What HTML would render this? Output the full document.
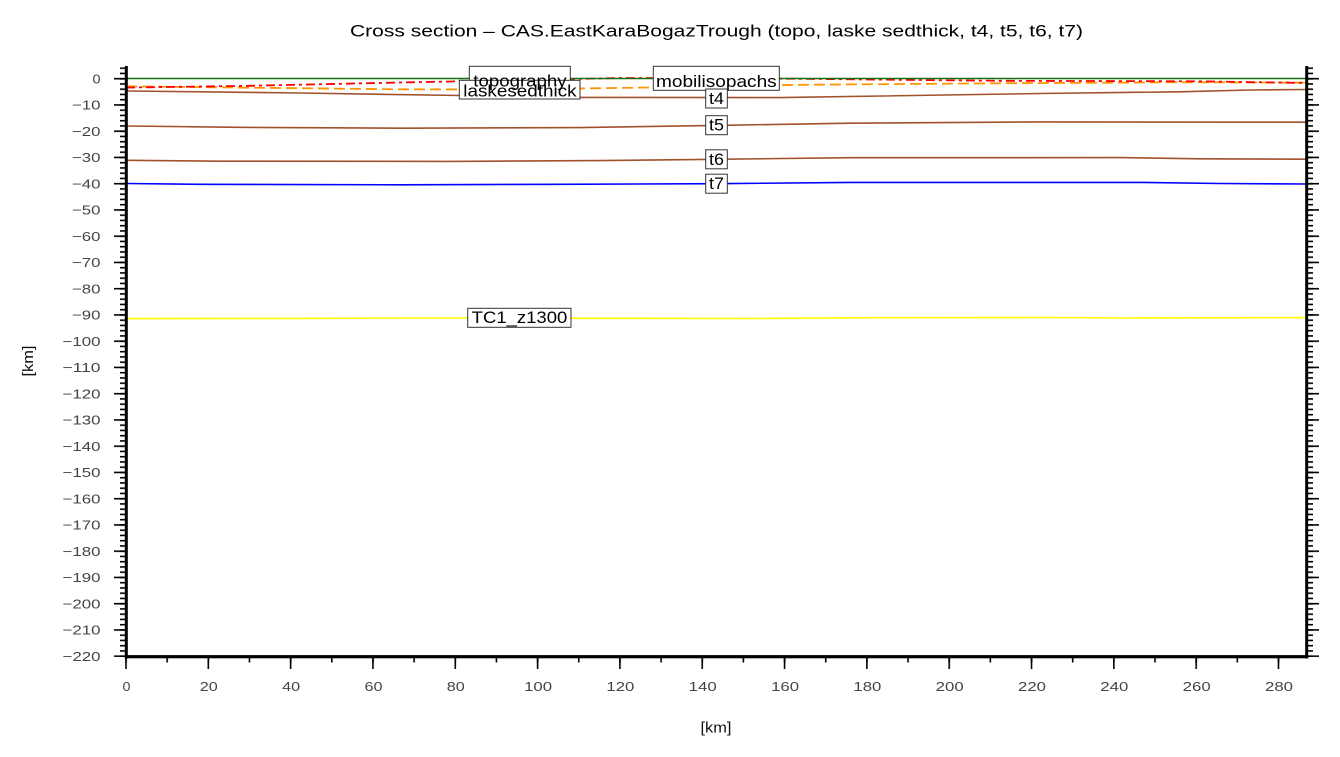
<!DOCTYPE html>
<html>
<head>
<meta charset="utf-8">
<style>
  html, body { margin: 0; padding: 0; background: #ffffff; }
  svg { display: block; }
  text { font-family: "Liberation Sans", "DejaVu Sans", sans-serif; }
</style>
</head>
<body>
<svg width="1340" height="757" viewBox="0 0 1340 757" xmlns="http://www.w3.org/2000/svg">
  <defs>
    <pattern id="lmin" patternUnits="userSpaceOnUse" x="0" y="77.9" width="40" height="5.25">
      <rect x="0" y="0" width="40" height="1.6" fill="#000"/>
    </pattern>
    <pattern id="lmaj" patternUnits="userSpaceOnUse" x="0" y="77.9" width="40" height="26.25">
      <rect x="0" y="0" width="40" height="1.6" fill="#000"/>
    </pattern>
    <pattern id="bmin" patternUnits="userSpaceOnUse" x="125.2" y="0" width="41.16" height="40">
      <rect x="0" y="0" width="1.6" height="40" fill="#000"/>
    </pattern>
    <pattern id="bmaj" patternUnits="userSpaceOnUse" x="125.2" y="0" width="82.32" height="40">
      <rect x="0" y="0" width="1.6" height="40" fill="#000"/>
    </pattern>
  </defs>

  <rect x="0" y="0" width="1340" height="757" fill="#ffffff"/>

  <!-- Title -->
  <text x="350" y="36.5" font-size="17" textLength="733" lengthAdjust="spacingAndGlyphs" fill="#000">Cross section – CAS.EastKaraBogazTrough (topo, laske sedthick, t4, t5, t6, t7)</text>

  <!-- Series -->
  <polyline fill="none" stroke="#ffff00" stroke-width="1.6" points="126,318.6 300,318.4 420,318 600,318.3 750,318.5 880,317.7 1050,317.5 1120,318 1306,317.6"/>
  <polyline fill="none" stroke="#0000ff" stroke-width="1.6" points="126,183.5 200,184.3 400,184.8 560,184.3 716,183.7 850,182.4 1140,182.4 1220,183.5 1306,184"/>
  <polyline fill="none" stroke="#a0522d" stroke-width="1.6" points="126,160.3 220,161.2 450,161.4 600,160.6 716,159.3 850,157.7 1120,157.6 1200,158.8 1306,159.2"/>
  <polyline fill="none" stroke="#a0522d" stroke-width="1.6" points="126,126 250,127.4 400,128.2 580,127.6 716,125.4 850,123.2 1040,121.9 1306,122.2"/>
  <polyline fill="none" stroke="#a0522d" stroke-width="1.6" points="126,91 300,93 460,95.5 580,97.4 780,97.6 1040,93.5 1180,91.8 1250,90 1306,89.5"/>
  <polyline fill="none" stroke="#ff9500" stroke-width="1.8" stroke-dasharray="11,5" points="126,86.3 250,87.7 400,89.3 480,89.5 580,88.5 716,86.5 800,84.8 1000,83.3 1180,82.3 1306,82.6"/>
  <polyline fill="none" stroke="#ff0000" stroke-width="1.8" stroke-dasharray="9,4,3,4" points="126,87.6 250,85.8 400,82.5 526,80 620,78 716,78.3 800,78.8 1000,80.8 1200,81.3 1306,83"/>
  <line x1="126" y1="78.5" x2="1306" y2="78.5" stroke="#147014" stroke-width="1.6"/>

  <!-- Label boxes -->
  <rect x="469.3" y="66.3" width="101" height="24" fill="#ffffff" stroke="#333" stroke-width="1"/>
  <rect x="459.3" y="80.3" width="120.7" height="18.7" fill="#ffffff" stroke="#333" stroke-width="1"/>
  <text x="473.3" y="86.3" font-size="17" textLength="93.3" lengthAdjust="spacingAndGlyphs" fill="#000">topography</text>
  <text x="463.3" y="96.5" font-size="17" textLength="113.3" lengthAdjust="spacingAndGlyphs" fill="#000">laskesedthick</text>

  <rect x="653.3" y="66.3" width="126" height="24" fill="#ffffff" stroke="#333" stroke-width="1"/>
  <text x="656" y="87" font-size="17" textLength="120.7" lengthAdjust="spacingAndGlyphs" fill="#000">mobilisopachs</text>

  <rect x="705.7" y="89" width="21.6" height="19" fill="#ffffff" stroke="#333" stroke-width="1"/>
  <text x="709" y="104" font-size="17" textLength="15" lengthAdjust="spacingAndGlyphs" fill="#000">t4</text>

  <rect x="705.7" y="115.7" width="21.6" height="19" fill="#ffffff" stroke="#333" stroke-width="1"/>
  <text x="709" y="130.7" font-size="17" textLength="15" lengthAdjust="spacingAndGlyphs" fill="#000">t5</text>

  <rect x="705.7" y="149.8" width="21.6" height="19" fill="#ffffff" stroke="#333" stroke-width="1"/>
  <text x="709" y="164.8" font-size="17" textLength="15" lengthAdjust="spacingAndGlyphs" fill="#000">t6</text>

  <rect x="705.7" y="174.2" width="21.6" height="19" fill="#ffffff" stroke="#333" stroke-width="1"/>
  <text x="709" y="189.2" font-size="17" textLength="15" lengthAdjust="spacingAndGlyphs" fill="#000">t7</text>

  <rect x="467.7" y="308.3" width="103.3" height="19" fill="#ffffff" stroke="#333" stroke-width="1"/>
  <text x="471.7" y="323.2" font-size="17" textLength="95.6" lengthAdjust="spacingAndGlyphs" fill="#000">TC1_z1300</text>

  <!-- Ticks -->
  <rect x="120" y="67" width="6" height="590" fill="url(#lmin)"/>
  <rect x="114" y="77" width="12" height="580" fill="url(#lmaj)"/>
  <rect x="1307" y="67" width="6" height="590" fill="url(#lmin)"/>
  <rect x="1307" y="77" width="12" height="580" fill="url(#lmaj)"/>
  <rect x="124" y="657" width="1180" height="5.5" fill="url(#bmin)"/>
  <rect x="124" y="657" width="1160" height="12" fill="url(#bmaj)"/>

  <!-- Axes -->
  <rect x="124.8" y="66" width="3" height="592.5" fill="#000"/>
  <rect x="1305.2" y="66" width="3" height="592.5" fill="#000"/>
  <rect x="124.8" y="655.1" width="1183.4" height="3.2" fill="#000"/>

  <!-- Y tick labels -->
  <g font-size="13" fill="#444" text-anchor="end">
    <text x="100.5" y="83.3" textLength="8" lengthAdjust="spacingAndGlyphs">0</text>
    <text x="100.5" y="109.55" textLength="28.5" lengthAdjust="spacingAndGlyphs">−10</text>
    <text x="100.5" y="135.8" textLength="28.5" lengthAdjust="spacingAndGlyphs">−20</text>
    <text x="100.5" y="162.05" textLength="28.5" lengthAdjust="spacingAndGlyphs">−30</text>
    <text x="100.5" y="188.3" textLength="28.5" lengthAdjust="spacingAndGlyphs">−40</text>
    <text x="100.5" y="214.55" textLength="28.5" lengthAdjust="spacingAndGlyphs">−50</text>
    <text x="100.5" y="240.8" textLength="28.5" lengthAdjust="spacingAndGlyphs">−60</text>
    <text x="100.5" y="267.05" textLength="28.5" lengthAdjust="spacingAndGlyphs">−70</text>
    <text x="100.5" y="293.3" textLength="28.5" lengthAdjust="spacingAndGlyphs">−80</text>
    <text x="100.5" y="319.55" textLength="28.5" lengthAdjust="spacingAndGlyphs">−90</text>
    <text x="100.5" y="345.8" textLength="38" lengthAdjust="spacingAndGlyphs">−100</text>
    <text x="100.5" y="372.05" textLength="38" lengthAdjust="spacingAndGlyphs">−110</text>
    <text x="100.5" y="398.3" textLength="38" lengthAdjust="spacingAndGlyphs">−120</text>
    <text x="100.5" y="424.55" textLength="38" lengthAdjust="spacingAndGlyphs">−130</text>
    <text x="100.5" y="450.8" textLength="38" lengthAdjust="spacingAndGlyphs">−140</text>
    <text x="100.5" y="477.05" textLength="38" lengthAdjust="spacingAndGlyphs">−150</text>
    <text x="100.5" y="503.3" textLength="38" lengthAdjust="spacingAndGlyphs">−160</text>
    <text x="100.5" y="529.55" textLength="38" lengthAdjust="spacingAndGlyphs">−170</text>
    <text x="100.5" y="555.8" textLength="38" lengthAdjust="spacingAndGlyphs">−180</text>
    <text x="100.5" y="582.05" textLength="38" lengthAdjust="spacingAndGlyphs">−190</text>
    <text x="100.5" y="608.3" textLength="38" lengthAdjust="spacingAndGlyphs">−200</text>
    <text x="100.5" y="634.55" textLength="38" lengthAdjust="spacingAndGlyphs">−210</text>
    <text x="100.5" y="660.8" textLength="38" lengthAdjust="spacingAndGlyphs">−220</text>
  </g>

  <!-- X tick labels -->
  <g font-size="13" fill="#444" text-anchor="middle">
    <text x="126.5" y="691" textLength="8" lengthAdjust="spacingAndGlyphs">0</text>
    <text x="208.8" y="691" textLength="18" lengthAdjust="spacingAndGlyphs">20</text>
    <text x="291.1" y="691" textLength="18" lengthAdjust="spacingAndGlyphs">40</text>
    <text x="373.5" y="691" textLength="18" lengthAdjust="spacingAndGlyphs">60</text>
    <text x="455.8" y="691" textLength="18" lengthAdjust="spacingAndGlyphs">80</text>
    <text x="538.1" y="691" textLength="28" lengthAdjust="spacingAndGlyphs">100</text>
    <text x="620.4" y="691" textLength="28" lengthAdjust="spacingAndGlyphs">120</text>
    <text x="702.7" y="691" textLength="28" lengthAdjust="spacingAndGlyphs">140</text>
    <text x="785.1" y="691" textLength="28" lengthAdjust="spacingAndGlyphs">160</text>
    <text x="867.4" y="691" textLength="28" lengthAdjust="spacingAndGlyphs">180</text>
    <text x="949.7" y="691" textLength="28" lengthAdjust="spacingAndGlyphs">200</text>
    <text x="1032" y="691" textLength="28" lengthAdjust="spacingAndGlyphs">220</text>
    <text x="1114.3" y="691" textLength="28" lengthAdjust="spacingAndGlyphs">240</text>
    <text x="1196.7" y="691" textLength="28" lengthAdjust="spacingAndGlyphs">260</text>
    <text x="1279" y="691" textLength="28" lengthAdjust="spacingAndGlyphs">280</text>
  </g>

  <!-- Axis titles -->
  <text x="716" y="732.5" font-size="15" text-anchor="middle" textLength="31" lengthAdjust="spacingAndGlyphs" fill="#111">[km]</text>
  <text transform="translate(33,361) rotate(-90)" x="0" y="0" font-size="15" text-anchor="middle" textLength="31" lengthAdjust="spacingAndGlyphs" fill="#111">[km]</text>
</svg>
</body>
</html>
